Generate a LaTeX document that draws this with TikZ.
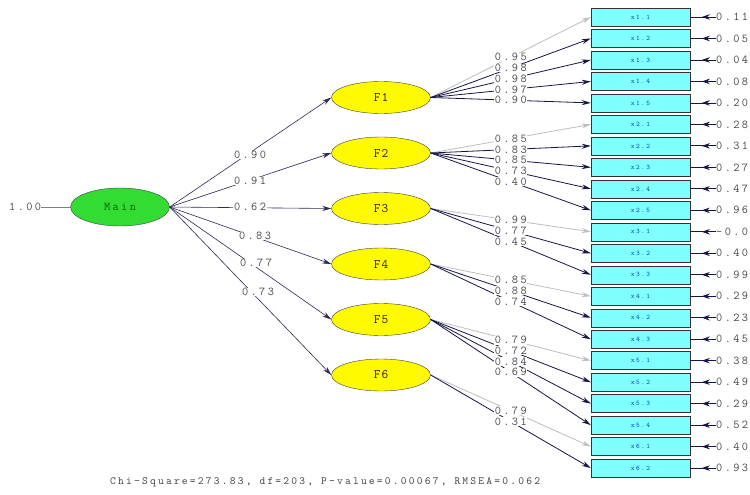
\documentclass[tikz,border=0pt]{standalone}
\usepackage{fontspec}
\newfontfamily\lis{Latin Modern Mono}[LetterSpace=20]
\newfontfamily\lisb{Latin Modern Mono}[LetterSpace=8]
\usetikzlibrary{arrows.meta,shapes.geometric,decorations.markings,calc}
\definecolor{navy}{RGB}{22,22,70}
\definecolor{lgray}{RGB}{190,190,190}
\definecolor{boxcyan}{RGB}{128,255,255}
\definecolor{fyellow}{RGB}{255,250,0}
\definecolor{mgreen}{RGB}{50,220,50}
\definecolor{numgray}{RGB}{70,70,70}
\tikzset{
  mainell/.style={ellipse,draw=black!75,fill=mgreen,minimum width=99pt,minimum height=38pt,inner sep=0pt,text=green!40!black,font=\lis\fontsize{12}{12}\selectfont},
  fell/.style={ellipse,draw=black!75,fill=fyellow,minimum width=99pt,minimum height=32pt,inner sep=0pt,text=black!75!brown,font=\lisb\fontsize{13}{13}\selectfont},
  obsbox/.style={rectangle,draw=black!80,fill=boxcyan,minimum width=99pt,minimum height=18pt,inner sep=0pt,text=teal!60!blue,font=\lis\fontsize{7}{7}\selectfont},
  numlab/.style={fill=white,inner sep=0.6pt,text=numgray,font=\lis\fontsize{12}{12}\selectfont},
  errlab/.style={anchor=west,inner sep=0pt,text=numgray,font=\lis\fontsize{12}{12}\selectfont},
  structline/.style={draw=navy!80!gray,line width=0.6pt,-{Stealth[length=9pt,width=5pt]}},
  freeline/.style={draw=navy,line width=0.8pt,-{Stealth[length=9pt,width=5pt]}},
  fixline/.style={draw=lgray,line width=0.8pt,-{Stealth[length=9pt,width=5pt]}},
  errline/.style={draw=navy,line width=0.8pt,postaction={decorate},decoration={markings,mark=at position 0.55 with {\arrow{Stealth[length=8pt,width=5.5pt]}}}},
}
\begin{document}
\begin{tikzpicture}[x=1pt,y=-1pt]
\useasboundingbox (0,0) rectangle (750,495);
\fill[white] (0,0) rectangle (750,495);
% main factor
\node[mainell] (M) at (120,207) {Main};
\node[errlab] (one) at (9,207) {1.00};
\draw[draw=gray,line width=0.5pt] (one.east) -- (M.west);
% first-order factors
\foreach \i in {1,...,6}{
  \node[fell] (F\i) at (381,{97.5+55.5*(\i-1)}) {F\i};
}
% observed boxes and errors
\foreach \k/\t/\e in {1/x1.1/0.11,2/x1.2/0.05,3/x1.3/0.04,4/x1.4/0.08,5/x1.5/0.20,
  6/x2.1/0.28,7/x2.2/0.31,8/x2.3/0.27,9/x2.4/0.47,10/x2.5/0.96,
  11/x3.1/-0.04,12/x3.2/0.40,13/x3.3/0.99,
  14/x4.1/0.29,15/x4.2/0.23,16/x4.3/0.45,
  17/x5.1/0.38,18/x5.2/0.49,19/x5.3/0.29,20/x5.4/0.52,
  21/x6.1/0.40,22/x6.2/0.93}{
  \node[obsbox] (b\k) at (640.5,{17+21.48*(\k-1)}) {\t};
  \node[errlab] (e\k) at (716,{17+21.48*(\k-1)}) {\e};
  \draw[errline] (e\k.west) -- (b\k.east);
}
% structural paths
\foreach \i/\v in {1/0.90,2/0.91,3/0.62,4/0.83,5/0.77,6/0.73}{
  \draw[structline] (M.east) -- (F\i.west);
}
% measurement paths
\foreach \f/\k/\s in {1/1/fixline,1/2/freeline,1/3/freeline,1/4/freeline,1/5/freeline,
  2/6/fixline,2/7/freeline,2/8/freeline,2/9/freeline,2/10/freeline,
  3/11/fixline,3/12/freeline,3/13/freeline,
  4/14/fixline,4/15/freeline,4/16/freeline,
  5/17/fixline,5/18/freeline,5/19/freeline,5/20/freeline,
  6/21/fixline,6/22/freeline}{
  \draw[\s] (F\f.east) -- (b\k.west);
}
% labels on structural paths
\foreach \i/\v/\x/\y in {1/0.90/250/155,2/0.91/250/181,3/0.62/250/207,4/0.83/255/236,5/0.77/256/263,6/0.73/258/292}{
  \node[numlab] (ml\i) at (\x,\y) {\v};
}
% labels on measurement paths
\foreach \f/\k/\v in {1/1/0.95,1/2/0.98,1/3/0.98,1/4/0.97,1/5/0.90,
  2/6/0.85,2/7/0.83,2/8/0.85,2/9/0.73,2/10/0.40,
  3/11/0.99,3/12/0.77,3/13/0.45,
  4/14/0.85,4/15/0.88,4/16/0.74,
  5/17/0.79,5/18/0.72,5/19/0.84,5/20/0.69,
  6/21/0.79,6/22/0.31}{
  \node[numlab] (l\k) at ($(F\f.east)!0.5!(b\k.west)$) {\v};
}
\node[anchor=west,inner sep=0pt,text=numgray,font=\lis\fontsize{11}{11}\selectfont] (fit) at (110,482) {Chi-Square=273.83, df=203, P-value=0.00067, RMSEA=0.062};
\end{tikzpicture}
\end{document}
